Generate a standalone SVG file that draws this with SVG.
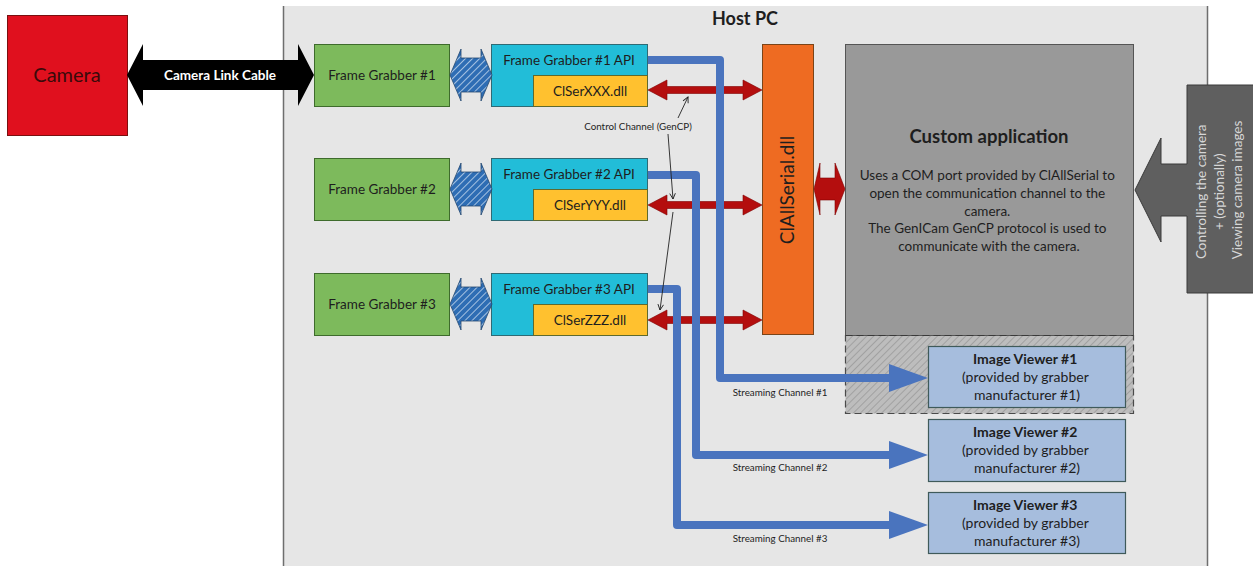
<svg xmlns="http://www.w3.org/2000/svg" width="1253" height="566" viewBox="0 0 1253 566">
  <defs>
    <style>
      .t { font-family: Lato, "Liberation Sans", sans-serif; fill: #1E1E1E; }
      .b { font-weight: bold; }
      .fg { fill: #7DBA5C; stroke: #3E6B2C; stroke-width: 1; }
      .api { fill: #22BDD8; stroke: #2F6A74; stroke-width: 1; }
      .dll { fill: #FFC12F; stroke: #5E6A2E; stroke-width: 1; }
      .iv { fill: #A6BDDD; stroke: #3F5A5A; stroke-width: 1.2; }
      .stream { fill: none; stroke: #4A74BE; stroke-width: 8; stroke-linejoin: round; }
      .red { fill: #B40E0E; stroke: #800000; stroke-width: 0.6; }
      .ctl { fill: none; stroke: #222; stroke-width: 0.9; }
    </style>
    <pattern id="blueHatch" width="5" height="5" patternUnits="userSpaceOnUse" patternTransform="rotate(45)">
      <rect width="5" height="5" fill="#2E6DB4"/>
      <line x1="0" y1="0" x2="0" y2="5" stroke="#E8F0FA" stroke-width="1.3"/>
    </pattern>
    <pattern id="grayHatch" width="5" height="5" patternUnits="userSpaceOnUse" patternTransform="rotate(45)">
      <rect width="5" height="5" fill="#BDBDBD"/>
      <line x1="0" y1="0" x2="0" y2="5" stroke="#959595" stroke-width="1.4"/>
    </pattern>
    <marker id="openHead" viewBox="0 0 10 10" refX="9" refY="5" markerWidth="7" markerHeight="7" orient="auto" markerUnits="userSpaceOnUse">
      <polyline points="1,1 9,5 1,9" fill="none" stroke="#222" stroke-width="1.3"/>
    </marker>
  </defs>

  <!-- Host PC container -->
  <g id="host-pc">
    <rect x="284" y="6" width="923" height="570" fill="#E6E6E6"/>
    <line x1="283.5" y1="6" x2="283.5" y2="566" stroke="#6E6E6E" stroke-width="1.5"/>
    <line x1="1207.5" y1="6" x2="1207.5" y2="566" stroke="#6E6E6E" stroke-width="1.5"/>
    <text class="t b" x="745" y="25" font-size="18" text-anchor="middle">Host PC</text>
  </g>

  <!-- Camera -->
  <g id="camera">
    <rect x="7.5" y="15.5" width="120" height="120" fill="#E0101E" stroke="#7A1010" stroke-width="1"/>
    <text class="t" x="67" y="82" font-size="20" text-anchor="middle" style="fill:#3a0a0a">Camera</text>
  </g>

  <!-- Frame grabbers -->
  <g id="fg1">
    <rect class="fg" x="314.5" y="44.5" width="135" height="62"/>
    <text class="t" x="382" y="80" font-size="13.5" text-anchor="middle">Frame Grabber #1</text>
  </g>
  <g id="fg2">
    <rect class="fg" x="314.5" y="158.5" width="135" height="62"/>
    <text class="t" x="382" y="194" font-size="13.5" text-anchor="middle">Frame Grabber #2</text>
  </g>
  <g id="fg3">
    <rect class="fg" x="314.5" y="273.5" width="135" height="62"/>
    <text class="t" x="382" y="309" font-size="13.5" text-anchor="middle">Frame Grabber #3</text>
  </g>

  <!-- APIs -->
  <g id="api1">
    <rect class="api" x="491.5" y="44.5" width="156" height="62"/>
    <text class="t" x="569" y="65" font-size="13.5" text-anchor="middle">Frame Grabber #1 API</text>
    <rect class="dll" x="533.5" y="75.5" width="114" height="31"/>
    <text class="t" x="590" y="96" font-size="13.5" text-anchor="middle">ClSerXXX.dll</text>
  </g>
  <g id="api2">
    <rect class="api" x="491.5" y="158.5" width="156" height="62"/>
    <text class="t" x="569" y="179" font-size="13.5" text-anchor="middle">Frame Grabber #2 API</text>
    <rect class="dll" x="533.5" y="189.5" width="114" height="31"/>
    <text class="t" x="590" y="210" font-size="13.5" text-anchor="middle">ClSerYYY.dll</text>
  </g>
  <g id="api3">
    <rect class="api" x="491.5" y="273.5" width="156" height="62"/>
    <text class="t" x="569" y="294" font-size="13.5" text-anchor="middle">Frame Grabber #3 API</text>
    <rect class="dll" x="533.5" y="304.5" width="114" height="31"/>
    <text class="t" x="590" y="325" font-size="13.5" text-anchor="middle">ClSerZZZ.dll</text>
  </g>

  <!-- ClAllSerial.dll -->
  <g id="clallserial">
    <rect x="762.5" y="44.5" width="51" height="290" fill="#EE6B22" stroke="#7A4418" stroke-width="1"/>
    <text class="t" transform="translate(788,190) rotate(-90)" x="0" y="6" font-size="19" text-anchor="middle">ClAllSerial.dll</text>
  </g>

  <!-- Custom application -->
  <g id="custom-app">
    <rect x="845.5" y="335.5" width="288" height="78" fill="url(#grayHatch)" stroke="#4A4A4A" stroke-width="1.2" stroke-dasharray="7,4"/>
    <rect x="845.5" y="44.5" width="288" height="291" fill="#999999" stroke="#555555" stroke-width="1"/>
    <line x1="845.5" y1="335.5" x2="1133.5" y2="335.5" stroke="#3A3A3A" stroke-width="1.2" stroke-dasharray="7,4"/>
    <text class="t b" x="989" y="143" font-size="18.5" text-anchor="middle">Custom application</text>
    <text class="t" font-size="13.5" text-anchor="middle">
      <tspan x="989" y="180">Uses a COM port provided by ClAllSerial to</tspan>
      <tspan x="989" y="198">open the communication channel to the</tspan>
      <tspan x="989" y="216">camera.</tspan>
      <tspan x="989" y="233">The GenICam GenCP protocol is used to</tspan>
      <tspan x="989" y="251">communicate with the camera.</tspan>
    </text>
  </g>

  <!-- Image viewers -->
  <g id="viewer1">
    <rect class="iv" x="928.5" y="346.5" width="197" height="61"/>
    <text class="t" font-size="14" text-anchor="middle">
      <tspan class="b" x="1027" y="364">Image Viewer #1</tspan>
      <tspan x="1027" y="382">(provided by grabber</tspan>
      <tspan x="1027" y="400">manufacturer #1)</tspan>
    </text>
  </g>
  <g id="viewer2">
    <rect class="iv" x="928.5" y="419.5" width="197" height="62"/>
    <text class="t" font-size="14" text-anchor="middle">
      <tspan class="b" x="1027" y="437">Image Viewer #2</tspan>
      <tspan x="1027" y="455">(provided by grabber</tspan>
      <tspan x="1027" y="473">manufacturer #2)</tspan>
    </text>
  </g>
  <g id="viewer3">
    <rect class="iv" x="928.5" y="492.5" width="197" height="61"/>
    <text class="t" font-size="14" text-anchor="middle">
      <tspan class="b" x="1027" y="510">Image Viewer #3</tspan>
      <tspan x="1027" y="528">(provided by grabber</tspan>
      <tspan x="1027" y="546">manufacturer #3)</tspan>
    </text>
  </g>

  <!-- User callout -->
  <g id="user-callout">
    <polygon points="1187,85 1262,85 1262,293 1187,293 1187,216 1161,216 1161,242 1135,190 1161,138 1161,164 1187,164" fill="#5F5F5F" stroke="#3A3A3A" stroke-width="1"/>
    <text class="t" transform="translate(1220,190) rotate(-90)" font-size="13.5" text-anchor="middle" style="fill:#D6D6D6">
      <tspan x="0" y="-14">Controlling the camera</tspan>
      <tspan x="0" y="4">+ (optionally)</tspan>
      <tspan x="0" y="22">Viewing camera images</tspan>
    </text>
  </g>

  <!-- Connectors -->
  <g id="connectors">
    <!-- Camera Link Cable -->
    <polygon points="127,75 143,44 143,60 298,60 298,44 314,75 298,106 298,90 143,90 143,106" fill="#000"/>
    <text class="t b" x="220" y="80" font-size="13.5" text-anchor="middle" style="fill:#fff">Camera Link Cable</text>

    <!-- FG <-> API hatched arrows -->
    <polygon points="450,75 461,49 461,58 481,58 481,49 492,75 481,101 481,92 461,92 461,101" fill="url(#blueHatch)" stroke="#24476E" stroke-width="0.8"/>
    <polygon points="450,189 461,163 461,172 481,172 481,163 492,189 481,215 481,206 461,206 461,215" fill="url(#blueHatch)" stroke="#24476E" stroke-width="0.8"/>
    <polygon points="450,304 461,278 461,287 481,287 481,278 492,304 481,330 481,321 461,321 461,330" fill="url(#blueHatch)" stroke="#24476E" stroke-width="0.8"/>

    <!-- Red control double arrows -->
    <polygon class="red" points="648,90 667,80 667,86.5 743,86.5 743,80 762,90 743,100 743,93.5 667,93.5 667,100"/>
    <polygon class="red" points="648,205 667,195 667,201.5 743,201.5 743,195 762,205 743,215 743,208.5 667,208.5 667,215"/>
    <polygon class="red" points="648,320 667,310 667,316.5 743,316.5 743,310 762,320 743,330 743,323.5 667,323.5 667,330"/>
    <polygon class="red" points="814,189 820,163 820,178 835,178 835,163 845,189 835,215 835,200 820,200 820,215"/>

    <!-- Streaming channels -->
    <path class="stream" d="M 648 60 L 720 60 L 720 378 L 892 378"/>
    <polygon points="889,364 928,378 889,392" fill="#4A74BE"/>
    <path class="stream" d="M 648 175 L 696 175 L 696 455 L 892 455"/>
    <polygon points="889,441 928,455 889,469" fill="#4A74BE"/>
    <path class="stream" d="M 648 289 L 677 289 L 677 525 L 892 525"/>
    <polygon points="889,511 928,525 889,539" fill="#4A74BE"/>

    <text class="t" x="780" y="396" font-size="9.8" text-anchor="middle">Streaming Channel #1</text>
    <text class="t" x="780" y="471" font-size="9.8" text-anchor="middle">Streaming Channel #2</text>
    <text class="t" x="780" y="542" font-size="9.8" text-anchor="middle">Streaming Channel #3</text>

    <!-- Control channel annotation -->
    <text class="t" x="638" y="130" font-size="9.8" text-anchor="middle">Control Channel (GenCP)</text>
    <line class="ctl" x1="678" y1="118" x2="688" y2="97" marker-end="url(#openHead)"/>
    <line class="ctl" x1="668" y1="134" x2="673" y2="199" marker-end="url(#openHead)"/>
    <line class="ctl" x1="673" y1="212" x2="660" y2="310" marker-end="url(#openHead)"/>
  </g>
</svg>
